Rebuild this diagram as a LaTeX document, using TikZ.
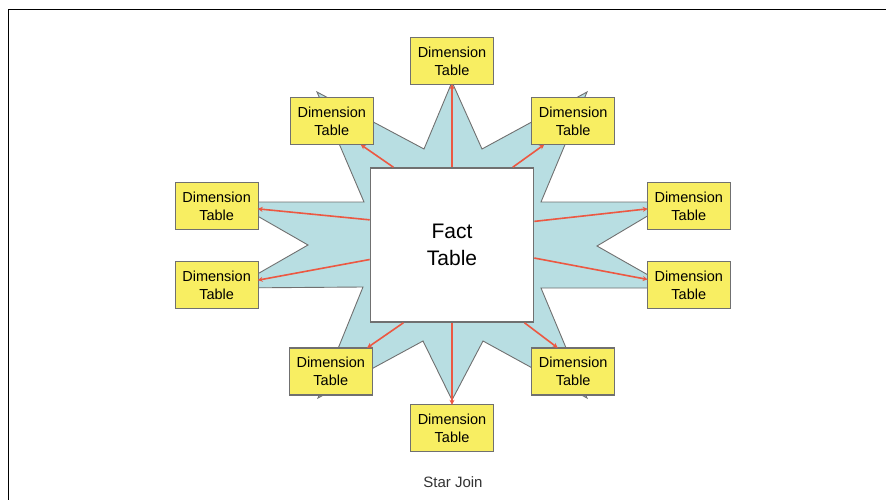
\documentclass[tikz,border=0pt]{standalone}
\usepackage{fontspec}
\setmainfont{Liberation Sans}
\usetikzlibrary{positioning, arrows.meta}
\definecolor{dimyellow}{RGB}{248,238,98}
\definecolor{starblue}{RGB}{184,222,226}
\definecolor{edgegray}{RGB}{112,112,112}
\definecolor{linkred}{RGB}{236,88,66}

\begin{document}
\begin{tikzpicture}[
        x=1pt, y=-1pt,
        dim/.style={draw=edgegray, line width=1.2pt, fill=dimyellow, minimum width=83pt, minimum height=47pt,
            inner sep=0pt, align=center, font=\fontsize{14.5}{18}\selectfont},
        fact/.style={draw=edgegray, line width=1.6pt, fill=white, minimum width=163pt, minimum height=154pt,
            align=center, font=\fontsize{21}{27}\selectfont},
        link/.style={-{Stealth[length=5pt, width=5pt]}, draw=linkred, fill=linkred, line width=1.6pt, shorten >=-1pt},
    ]
    \useasboundingbox (0,0) rectangle (886,500);

    % Frame
    \draw[line width=1.3pt] (8.5,500) -- (8.5,9.5) -- (886,9.5);

    % Star shape behind the tables
    \draw[edgegray, line width=0.9pt, fill=starblue]
        (452,82) -- (482,149) -- (587,92) -- (541,202) -- (671,202) -- (597,246)
        -- (671,288) -- (541,288) -- (587,398) -- (483,341) -- (452,400)
        -- (423,341) -- (318,398) -- (363,287) -- (233,288) -- (308,245)
        -- (233,202) -- (364,202) -- (317,92) -- (424,149) -- cycle;

    % Fact table
    \node[fact] (fact) at (452,245) {Fact\\Table};

    % Dimension tables
    \node[dim, above=82pt of fact] (dt) {Dimension\\Table};
    \node[dim, below=81pt of fact] (db) {Dimension\\Table};
    \node[dim, left=36pt of dt, yshift=-60pt] (dtl) {Dimension\\Table};
    \node[dim, right=37pt of dt, yshift=-60pt] (dtr) {Dimension\\Table};
    \node[dim, left=37pt of db, yshift=56.5pt] (dbl) {Dimension\\Table};
    \node[dim, right=37pt of db, yshift=56.5pt] (dbr) {Dimension\\Table};
    \node[dim, left=111pt of fact, yshift=39pt] (dl1) {Dimension\\Table};
    \node[dim, below=31pt of dl1] (dl2) {Dimension\\Table};
    \node[dim, right=388pt of dl1] (dr1) {Dimension\\Table};
    \node[dim, below=31pt of dr1] (dr2) {Dimension\\Table};

    % Links
    \draw[link] (fact.north) -- (dt.south);
    \draw[link] (fact.south) -- (db.north);
    \draw[link] (fact.127.6) -- (dtl.-39.7);
    \draw[link] (fact.52.4) -- (dtr.-141.2);
    \draw[link] (fact.163.6) -- (dl1.-4.1);
    \draw[link] (fact.-170.3) -- (dl2.7.5);
    \draw[link] (fact.16.4) -- (dr1.184.2);
    \draw[link] (fact.-9.7) -- (dr2.172.4);
    \draw[link] (fact.238.9) -- (dbl.33);
    \draw[link] (fact.-47.5) -- (dbr.124.4);

    % Caption
    \node[font=\fontsize{15}{18}\selectfont, text=black!80] (caption) at (453,482) {Star Join};
\end{tikzpicture}
\end{document}
